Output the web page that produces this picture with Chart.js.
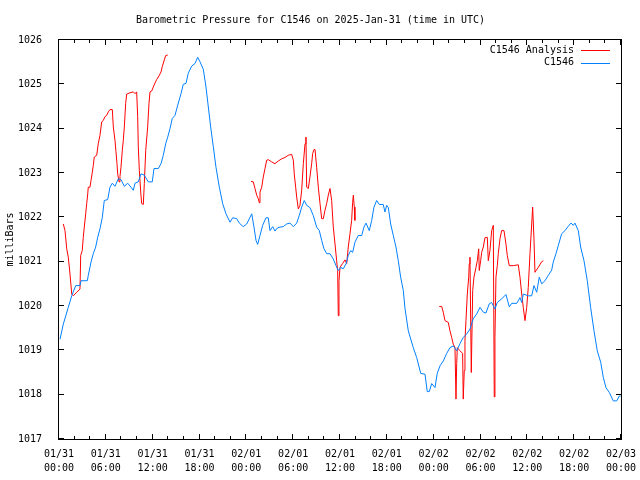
<!DOCTYPE html>
<html>
<head>
<meta charset="utf-8">
<script src="https://cdn.jsdelivr.net/npm/chart.js@4/dist/chart.umd.min.js"></script>
<style>
  html, body { margin: 0; padding: 0; background: #fff; }
  #wrap { width: 640px; height: 480px; }
</style>
</head>
<body>
<div id="wrap"><canvas id="pressureChart"></canvas></div>
<script>
// hours since 01/31 00:00 UTC
const dayLabels = ["01/31", "02/01", "02/02", "02/03"];

const blueHours = [
    0.13, 0.55, 1.19, 1.63, 2.14, 2.69, 2.82, 3.63, 3.75, 4.10, 4.39, 4.70, 4.96, 5.25, 5.55, 5.80,
    6.24, 6.53, 6.83, 7.17, 7.60, 7.94, 8.37, 8.80, 9.22, 9.52, 9.74, 10.16, 10.50, 10.93, 11.44, 11.95,
    12.17, 12.72, 13.07, 13.36, 13.67, 13.93, 14.22, 14.51, 14.86, 15.21, 15.63, 15.92, 16.27, 16.56, 17.00, 17.42,
    17.77, 18.06, 18.49, 18.83, 19.13, 19.43, 19.77, 20.11, 20.54, 20.97, 21.39, 21.91, 22.25, 22.76, 23.10, 23.61,
    24.05, 24.47, 24.69, 24.98, 25.24, 25.45, 25.75, 26.09, 26.52, 26.81, 27.03, 27.38, 27.67, 27.97, 28.31, 28.73,
    29.17, 29.59, 30.02, 30.45, 30.78, 31.09, 31.42, 31.73, 32.15, 32.58, 33.01, 33.35, 33.65, 33.95, 34.29, 34.72,
    35.14, 35.49, 35.78, 36.09, 36.42, 36.77, 37.06, 37.37, 37.62, 37.92, 38.34, 38.78, 39.07, 39.33, 39.75, 40.06,
    40.35, 40.70, 41.03, 41.54, 41.76, 41.98, 42.19, 42.49, 42.83, 43.17, 43.47, 43.77, 44.11, 44.32, 44.75, 45.39,
    45.82, 46.34, 46.89, 47.18, 47.44, 47.75, 48.17, 48.46, 48.81, 49.23, 49.67, 50.09, 50.51, 50.95, 51.37, 51.79,
    52.23, 52.65, 53.07, 53.51, 53.93, 54.36, 54.70, 55.12, 55.43, 55.85, 56.15, 56.71, 57.26, 57.69, 58.00, 58.64,
    59.06, 59.28, 59.48, 60.12, 60.56, 60.85, 61.20, 61.53, 61.84, 62.26, 62.68, 63.12, 63.32, 63.67, 63.96, 64.40,
    64.82, 65.25, 65.59, 65.89, 66.10, 66.53, 66.83, 67.26, 67.68, 68.11, 68.54, 68.96, 69.40, 69.73, 70.07, 70.50,
    71.01, 71.45, 71.78, 71.96
];
const blueValues = [
    1019.25, 1019.59, 1019.97, 1020.23, 1020.46, 1020.46, 1020.57, 1020.57, 1020.69, 1020.99, 1021.18, 1021.33, 1021.55, 1021.74, 1022.00, 1022.38,
    1022.40, 1022.68, 1022.77, 1022.70, 1022.87, 1022.85, 1022.70, 1022.77, 1022.68, 1022.61, 1022.77, 1022.80, 1022.98, 1022.95, 1022.80, 1022.80,
    1023.10, 1023.10, 1023.21, 1023.40, 1023.66, 1023.81, 1024.00, 1024.23, 1024.30, 1024.53, 1024.79, 1025.00, 1025.02, 1025.25, 1025.41, 1025.47,
    1025.61, 1025.51, 1025.34, 1024.94, 1024.49, 1024.04, 1023.59, 1023.13, 1022.68, 1022.31, 1022.08, 1021.89, 1021.99, 1021.97, 1021.87, 1021.79,
    1021.85, 1022.00, 1022.08, 1021.78, 1021.48, 1021.39, 1021.59, 1021.82, 1021.99, 1021.99, 1021.70, 1021.79, 1021.69, 1021.76, 1021.78, 1021.79,
    1021.85, 1021.87, 1021.79, 1021.87, 1022.04, 1022.23, 1022.38, 1022.27, 1022.22, 1022.04, 1021.78, 1021.70, 1021.48, 1021.29, 1021.18, 1021.18,
    1021.06, 1020.91, 1020.80, 1020.87, 1020.84, 1020.95, 1021.14, 1021.25, 1021.21, 1021.44, 1021.59, 1021.59, 1021.78, 1021.87, 1021.70, 1021.93,
    1022.23, 1022.38, 1022.29, 1022.29, 1022.12, 1022.27, 1022.22, 1021.85, 1021.59, 1021.33, 1021.02, 1020.65, 1020.35, 1019.95, 1019.44, 1019.06,
    1018.84, 1018.48, 1018.46, 1018.07, 1018.07, 1018.25, 1018.16, 1018.48, 1018.65, 1018.76, 1018.93, 1019.06, 1019.10, 1018.99, 1019.15, 1019.29,
    1019.37, 1019.48, 1019.71, 1019.82, 1019.97, 1019.86, 1019.84, 1020.05, 1020.08, 1019.93, 1020.08, 1020.16, 1020.26, 1019.98, 1020.06, 1020.06,
    1020.19, 1020.08, 1020.27, 1020.23, 1020.23, 1020.46, 1020.31, 1020.65, 1020.50, 1020.57, 1020.69, 1020.81, 1020.99, 1021.18, 1021.36, 1021.63,
    1021.70, 1021.80, 1021.87, 1021.82, 1021.87, 1021.70, 1021.33, 1021.02, 1020.57, 1019.97, 1019.44, 1018.99, 1018.73, 1018.39, 1018.16, 1018.05,
    1017.86, 1017.86, 1017.97, 1017.97
];

// analysis series, null = no data
const redHours = [
    0.55, 0.77, 0.99, 1.19, 1.41, 1.63, 1.83, 2.27, 2.69, 2.78, 2.98, 3.11, 3.24, 3.42, 3.55, 3.68,
    3.75, 3.97, 4.10, 4.27, 4.39, 4.52, 4.83, 5.03, 5.25, 5.47, 5.68, 5.89, 6.11, 6.32, 6.53, 6.83,
    6.96, 7.17, 7.30, 7.43, 7.52, 7.69, 7.81, 7.94, 8.11, 8.24, 8.37, 8.54, 8.67, 9.10, 9.52, 9.74,
    9.95, 10.08, 10.16, 10.29, 10.47, 10.59, 10.80, 10.93, 11.11, 11.36, 11.53, 11.66, 11.88, 12.08, 12.30, 12.52,
    12.81, 13.07, 13.23, 13.49, 13.67, 13.93,
    19.00,
    24.60, 24.89, 25.11, 25.33, 25.53, 25.66, 25.75, 25.97, 26.17, 26.39, 26.61, 26.81, 27.25, 27.67, 28.09, 28.53,
    28.95, 29.37, 29.81, 30.02, 30.14, 30.32, 30.45, 30.66, 30.87, 31.09, 31.30, 31.52, 31.64, 31.73, 31.94, 32.15,
    32.37, 32.50, 32.67, 32.80, 33.01, 33.22, 33.44, 33.65, 33.86, 34.08, 34.29, 34.50, 34.72, 34.93, 35.14, 35.36,
    35.57, 35.70, 35.78, 35.87, 36.00, 36.34, 36.64, 36.86, 37.06, 37.28, 37.49, 37.62, 37.71, 37.83, 37.91,
    43.00,
    48.72, 49.03, 49.23, 49.45, 49.87, 50.09, 50.31, 50.51, 50.73, 50.86, 50.95, 51.03, 51.37, 51.71, 51.79, 51.92,
    52.01, 52.14, 52.31, 52.49, 52.56, 52.65, 52.82, 53.00, 53.16, 53.42, 53.59, 53.77, 53.84, 54.02, 54.15, 54.36,
    54.57, 54.87, 55.00, 55.21, 55.43, 55.64, 55.76, 55.85, 55.98, 56.15, 56.28, 56.50, 56.71, 57.01, 57.26, 57.43,
    57.69, 58.20, 58.84, 59.06, 59.28, 59.48, 59.70, 59.92, 60.12, 60.34, 60.56, 60.68, 60.85, 60.98, 61.40, 61.84,
    62.05
];
const redValues = [
    1021.85, 1021.70, 1021.29, 1021.10, 1020.72, 1020.27, 1020.23, 1020.31, 1020.38, 1021.14, 1021.25, 1021.55, 1021.78, 1022.08, 1022.31, 1022.53,
    1022.68, 1022.68, 1022.83, 1023.02, 1023.17, 1023.36, 1023.40, 1023.66, 1023.85, 1024.15, 1024.19, 1024.27, 1024.30, 1024.38, 1024.43, 1024.43,
    1024.04, 1023.74, 1023.48, 1023.21, 1022.98, 1022.80, 1022.92, 1023.13, 1023.51, 1023.74, 1024.04, 1024.57, 1024.78, 1024.81, 1024.83, 1024.79,
    1024.83, 1024.27, 1023.59, 1023.06, 1022.57, 1022.31, 1022.29, 1022.76, 1023.51, 1024.04, 1024.57, 1024.83, 1024.85, 1024.94, 1025.03, 1025.11,
    1025.19, 1025.28, 1025.40, 1025.55, 1025.65, 1025.66,
    null,
    1022.81, 1022.80, 1022.65, 1022.50, 1022.42, 1022.33, 1022.57, 1022.68, 1022.91, 1023.10, 1023.29, 1023.30, 1023.25, 1023.21, 1023.27, 1023.32,
    1023.35, 1023.40, 1023.42, 1023.29, 1022.98, 1022.68, 1022.46, 1022.19, 1022.27, 1022.61, 1023.21, 1023.66, 1023.81, 1022.68, 1022.65, 1022.91,
    1023.21, 1023.44, 1023.53, 1023.53, 1023.13, 1022.68, 1022.31, 1021.97, 1021.97, 1022.16, 1022.31, 1022.50, 1022.65, 1022.38, 1021.78, 1021.40,
    1021.02, 1020.80, 1019.78, 1020.57, 1020.87, 1020.96, 1021.04, 1020.96, 1021.33, 1021.63, 1021.93, 1022.34, 1022.50, 1022.23, 1021.93,
    null,
    1019.99, 1019.99, 1019.86, 1019.67, 1019.63, 1019.44, 1019.29, 1019.14, 1019.06, 1017.90, 1018.70, 1019.06, 1018.99, 1018.93, 1017.90, 1018.54,
    1019.22, 1019.67, 1020.27, 1020.65, 1020.95, 1021.10, 1018.50, 1020.35, 1020.65, 1020.87, 1021.02, 1021.29, 1020.80, 1021.02, 1021.21, 1021.33,
    1021.54, 1021.55, 1021.02, 1021.25, 1021.70, 1021.82, 1017.95, 1019.29, 1020.65, 1020.91, 1021.18, 1021.52, 1021.70, 1021.70, 1021.40, 1021.14,
    1020.91, 1020.91, 1020.93, 1020.65, 1020.27, 1019.97, 1019.67, 1019.97, 1020.42, 1021.18, 1021.85, 1022.23, 1021.52, 1020.76, 1020.87, 1021.00,
    1021.02
];

const MONO = "'DejaVu Sans Mono', 'Liberation Mono', monospace";

function toPoints(xs, ys) {
    return xs.map((x, i) => ({ x: x, y: ys[i] }));
}

function hourLabel(v) {
    const day = Math.floor(v / 24);
    const h = v % 24;
    return [dayLabels[day], (h < 10 ? "0" : "") + h + ":00"];
}

// gnuplot style frame: box, inward ticks on all sides, right-side legend, y title
const gnuplotFrame = {
    id: "gnuplotFrame",
    afterDraw(chart) {
        const ctx = chart.ctx;
        const a = chart.chartArea;
        const xs = chart.scales.x;
        const ys = chart.scales.y;
        ctx.save();
        ctx.strokeStyle = "#000";
        ctx.lineWidth = 1;
        ctx.strokeRect(Math.round(a.left) - 0.5, Math.round(a.top) - 0.5,
            Math.round(a.right - a.left) + 1, Math.round(a.bottom - a.top) + 1);

        ctx.beginPath();
        for (let h = 0; h <= 72; h += 2) {
            const px = Math.round(xs.getPixelForValue(h)) - 0.5;
            const len = h % 6 === 0 ? 5 : 3;
            ctx.moveTo(px, a.bottom);
            ctx.lineTo(px, a.bottom - len);
            ctx.moveTo(px, a.top);
            ctx.lineTo(px, a.top + len);
        }
        for (let v = 1017; v <= 1026; v++) {
            const py = Math.round(ys.getPixelForValue(v)) - 0.5;
            ctx.moveTo(a.left, py);
            ctx.lineTo(a.left + 5, py);
            ctx.moveTo(a.right, py);
            ctx.lineTo(a.right - 5, py);
        }
        ctx.stroke();

        ctx.font = "10px " + MONO;
        ctx.fillStyle = "#000";
        ctx.textBaseline = "middle";
        chart.data.datasets.forEach((ds, i) => {
            const y = a.top + 10 + i * 12.5;
            ctx.textAlign = "right";
            ctx.fillText(ds.label, a.right - 47, y);
            ctx.strokeStyle = ds.borderColor;
            ctx.beginPath();
            ctx.moveTo(a.right - 40, Math.round(y) + 0.5);
            ctx.lineTo(a.right - 11, Math.round(y) + 0.5);
            ctx.stroke();
        });

        ctx.translate(10, (a.top + a.bottom) / 2);
        ctx.rotate(-Math.PI / 2);
        ctx.textAlign = "center";
        ctx.fillText("milliBars", 0, 0);
        ctx.restore();
    },
};

new Chart(document.getElementById("pressureChart"), {
    type: "line",
    data: {
        datasets: [
            {
                label: "C1546 Analysis",
                data: toPoints(redHours, redValues),
                borderColor: "rgb(255, 0, 0)",
                borderWidth: 1,
                pointRadius: 0,
                spanGaps: false,
                order: 2,
            },
            {
                label: "C1546",
                data: toPoints(blueHours, blueValues),
                borderColor: "rgb(0, 128, 255)",
                borderWidth: 1,
                pointRadius: 0,
                order: 1,
            },
        ],
    },
    options: {
        responsive: true,
        maintainAspectRatio: false,
        animation: false,
        devicePixelRatio: 1,
        layout: { padding: { left: 0, right: 19, top: 0, bottom: 0 } },
        plugins: {
            legend: { display: false },
            tooltip: { enabled: false },
            title: {
                display: true,
                text: "Barometric Pressure for C1546 on 2025-Jan-31 (time in UTC)",
                color: "#000",
                font: { family: MONO, size: 10, weight: "normal" },
                padding: { top: 14, bottom: 14 },
            },
        },
        scales: {
            x: {
                type: "linear",
                min: 0,
                max: 72,
                afterFit: (s) => {
                    s.height = 41;
                    s.paddingLeft = 0;
                    s.paddingRight = 0;
                },
                grid: { display: false },
                border: { display: false },
                ticks: {
                    stepSize: 6,
                    autoSkip: false,
                    maxRotation: 0,
                    padding: 0,
                    color: "#000",
                    font: { family: MONO, size: 10, lineHeight: 1.4 },
                    callback: (v) => hourLabel(v),
                },
            },
            y: {
                min: 1017,
                max: 1026,
                afterFit: (s) => {
                    s.width = 59;
                    s.paddingTop = 0;
                    s.paddingBottom = 0;
                },
                grid: { display: false },
                border: { display: false },
                ticks: {
                    stepSize: 1,
                    padding: 9,
                    color: "#000",
                    font: { family: MONO, size: 10 },
                    callback: (v) => String(v),
                },
            },
        },
    },
    plugins: [gnuplotFrame],
});
</script>
</body>
</html>
